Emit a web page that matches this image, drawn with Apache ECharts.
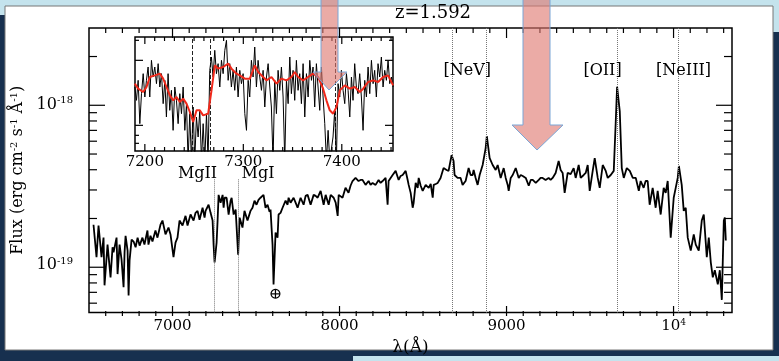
<!DOCTYPE html>
<html>
<head>
<meta charset="utf-8">
<script src="https://cdn.jsdelivr.net/npm/echarts@6.0.0/dist/echarts.min.js"></script>
<style>
  html, body { margin: 0; padding: 0; background: #17304f; }
  #main { width: 779px; height: 361px; }
</style>
</head>
<body>
<div id="main"></div>
<script>
// main spectrum, flux in units of 1e-19 erg cm-2 s-1 A-1
const lam = [6527, 6545, 6557, 6575, 6587, 6593, 6611, 6629, 6641, 6647, 6665, 6671, 6683, 6695, 6707, 6713, 6719, 6731, 6737, 6743,
  6755, 6767, 6779, 6791, 6803, 6820, 6832, 6850, 6856, 6868, 6880, 6898, 6910, 6928, 6940, 6952, 6958, 6976, 6988, 7006,
  7018, 7030, 7042, 7060, 7078, 7090, 7108, 7126, 7138, 7150, 7162, 7180, 7192, 7198, 7216, 7228, 7240, 7246, 7252, 7264,
  7270, 7276, 7288, 7300, 7306, 7312, 7324, 7336, 7348, 7354, 7366, 7378, 7393, 7402, 7419, 7431, 7449, 7467, 7479, 7491,
  7503, 7515, 7527, 7545, 7557, 7569, 7581, 7587, 7593, 7599, 7605, 7617, 7629, 7635, 7647, 7659, 7677, 7689, 7695, 7707,
  7725, 7737, 7749, 7767, 7785, 7797, 7809, 7827, 7845, 7857, 7869, 7887, 7905, 7917, 7935, 7947, 7965, 7977, 7989, 7995,
  8006, 8018, 8036, 8054, 8066, 8078, 8096, 8114, 8126, 8138, 8156, 8174, 8186, 8198, 8216, 8234, 8246, 8258, 8276, 8288,
  8294, 8306, 8318, 8336, 8354, 8366, 8378, 8396, 8408, 8414, 8426, 8438, 8444, 8456, 8468, 8474, 8486, 8498, 8516, 8534,
  8546, 8558, 8564, 8576, 8588, 8605, 8623, 8641, 8653, 8671, 8683, 8689, 8707, 8725, 8737, 8755, 8773, 8785, 8797, 8803,
  8815, 8827, 8839, 8857, 8875, 8882, 8899, 8917, 8935, 8947, 8965, 8983, 8995, 9007, 9013, 9025, 9037, 9055, 9073, 9085,
  9097, 9115, 9133, 9145, 9157, 9175, 9193, 9204, 9216, 9234, 9252, 9264, 9276, 9294, 9312, 9324, 9336, 9348, 9366, 9384,
  9402, 9414, 9432, 9444, 9462, 9474, 9486, 9498, 9516, 9528, 9546, 9558, 9576, 9594, 9606, 9624, 9642, 9654, 9662, 9678,
  9690, 9702, 9720, 9738, 9756, 9774, 9792, 9803, 9821, 9833, 9845, 9857, 9875, 9893, 9905, 9923, 9941, 9953, 9965, 9983,
  10001, 10013, 10025, 10032, 10049, 10061, 10073, 10085, 10103, 10121, 10133, 10151, 10169, 10181, 10199, 10211, 10223, 10235, 10247, 10265,
  10277, 10289, 10301, 10307, 10313];
const flux = [1.77, 1.11, 1.75, 1.11, 1.47, 0.74, 1.33, 0.83, 1.28, 1.19, 1.47, 0.87, 1.33, 1.07, 0.72, 1.19, 1.51, 1.22, 0.64, 1.06,
  1.43, 1.39, 1.28, 1.47, 1.31, 1.47, 1.33, 1.63, 1.33, 1.51, 1.39, 1.63, 1.47, 1.77, 1.88, 1.65, 1.54, 1.70, 1.54, 1.11,
  1.37, 1.47, 1.88, 1.75, 2.01, 1.75, 2.05, 1.88, 2.10, 2.16, 1.90, 2.26, 1.96, 2.16, 2.36, 2.10, 1.88, 1.33, 1.03, 1.37,
  1.88, 2.72, 2.43, 2.72, 2.26, 2.61, 2.61, 2.05, 2.50, 2.61, 2.05, 2.20, 1.15, 1.96, 1.70, 2.16, 1.88, 2.16, 2.26, 2.50,
  2.36, 2.53, 2.61, 2.72, 2.26, 2.36, 2.13, 2.20, 1.70, 1.33, 0.75, 1.58, 1.47, 2.05, 2.10, 2.26, 2.50, 2.36, 2.61, 2.43,
  2.61, 2.43, 2.26, 2.61, 2.36, 2.68, 2.72, 2.36, 2.72, 2.68, 2.61, 2.88, 2.36, 2.72, 2.36, 2.72, 2.61, 2.43, 2.01, 2.72,
  2.68, 2.61, 3.01, 2.80, 3.10, 3.32, 3.47, 3.32, 3.37, 3.37, 3.14, 3.32, 3.14, 3.23, 3.14, 3.37, 3.23, 3.32, 3.47, 2.36,
  3.32, 3.47, 3.62, 3.84, 3.37, 3.57, 3.62, 3.84, 3.37, 3.14, 2.80, 2.26, 2.43, 3.23, 3.01, 3.47, 3.10, 2.88, 3.14, 3.01,
  3.18, 2.61, 3.14, 3.18, 3.23, 3.47, 4.00, 3.89, 3.84, 4.82, 4.43, 3.62, 3.47, 3.47, 3.14, 3.32, 4.00, 3.62, 3.62, 3.89,
  3.47, 3.14, 3.62, 4.18, 5.33, 6.33, 4.62, 4.18, 3.89, 4.18, 3.47, 4.00, 3.47, 3.14, 2.88, 3.47, 3.62, 4.00, 3.47, 3.62,
  3.57, 3.47, 3.10, 3.37, 3.37, 3.23, 3.37, 3.47, 3.47, 3.37, 3.47, 3.37, 3.47, 3.73, 4.43, 3.89, 3.73, 2.80, 3.73, 3.67,
  4.00, 3.47, 4.18, 3.47, 3.62, 3.73, 4.18, 2.88, 3.84, 4.62, 3.47, 3.01, 4.18, 3.84, 3.47, 3.62, 3.84, 7.84, 12.9, 9.05,
  4.00, 3.47, 4.00, 3.84, 3.47, 3.47, 2.88, 3.32, 3.01, 3.32, 3.32, 2.36, 3.01, 2.26, 2.88, 2.05, 3.01, 2.80, 3.32, 1.47,
  2.61, 3.01, 3.47, 4.12, 3.14, 2.16, 2.26, 1.47, 1.22, 1.54, 1.33, 1.22, 1.88, 2.05, 1.11, 1.47, 1.03, 0.83, 0.92, 0.75,
  0.92, 0.60, 1.88, 1.96, 1.41];

// inset: zoom on 7190-7452 A, raw (black) and smoothed (red), arbitrary linear units
const insetLam = [7189.8, 7191.5, 7193.2, 7194.9, 7196.6, 7198.3, 7200.0, 7201.6, 7203.3, 7205.0, 7206.7, 7208.4, 7210.1, 7211.8, 7213.5, 7215.2,
  7216.9, 7218.6, 7220.3, 7221.9, 7223.6, 7225.3, 7227.0, 7228.7, 7230.4, 7232.1, 7233.8, 7235.5, 7237.2, 7238.9, 7240.6, 7242.3,
  7243.9, 7245.6, 7247.3, 7249.0, 7250.7, 7252.4, 7254.1, 7255.8, 7257.5, 7259.2, 7260.9, 7262.6, 7264.2, 7265.9, 7267.6, 7269.3,
  7271.0, 7272.7, 7274.4, 7276.1, 7277.8, 7279.5, 7281.2, 7282.9, 7284.6, 7286.2, 7287.9, 7289.6, 7291.3, 7293.0, 7294.7, 7296.4,
  7298.1, 7299.8, 7301.5, 7303.2, 7304.9, 7306.5, 7308.2, 7309.9, 7311.6, 7313.3, 7315.0, 7316.7, 7318.4, 7320.1, 7321.8, 7323.5,
  7325.2, 7326.9, 7328.5, 7330.2, 7331.9, 7333.6, 7335.3, 7337.0, 7338.7, 7340.4, 7342.1, 7343.8, 7345.5, 7347.2, 7348.8, 7350.5,
  7352.2, 7353.9, 7355.6, 7357.3, 7359.0, 7360.7, 7362.4, 7364.1, 7365.8, 7367.5, 7369.2, 7370.8, 7372.5, 7374.2, 7375.9, 7377.6,
  7379.3, 7381.0, 7382.7, 7384.4, 7386.1, 7387.8, 7389.5, 7391.1, 7392.8, 7394.5, 7396.2, 7397.9, 7399.6, 7401.3, 7403.0, 7404.7,
  7406.4, 7408.1, 7409.8, 7411.4, 7413.1, 7414.8, 7416.5, 7418.2, 7419.9, 7421.6, 7423.3, 7425.0, 7426.7, 7428.4, 7430.1, 7431.8,
  7433.4, 7435.1, 7436.8, 7438.5, 7440.2, 7441.9, 7443.6, 7445.3, 7447.0, 7448.7, 7450.4, 7452.1];
const insetFlux = [1.92, 1.52, 2.12, 0.82, 1.72, 2.32, 1.62, 2.12, 2.52, 1.62, 2.72, 2.22, 2.52, 2.02, 2.62, 1.92,
  2.32, 1.42, 2.12, 1.02, 2.32, 1.22, 1.82, 0.62, 1.92, 1.52, 0.82, 1.72, 1.12, 1.92, 0.62, 1.42,
  -0.3, 1.12, -0.3, 1.32, -0.3, 1.02, 0.42, 1.22, -0.3, 0.82, -0.3, 1.12, -0.3, 2.42, 2.82, 2.22,
  3.02, 2.32, 2.62, 1.92, 2.72, 2.32, 3.02, 3.32, 2.12, 2.62, 1.92, 2.42, 1.82, 2.52, 1.62, 2.42,
  2.02, 2.32, 1.12, 0.62, 2.12, 1.62, 2.72, 2.22, 3.12, 1.92, 2.72, 2.22, 1.82, 2.42, 1.32, 2.22,
  2.62, 1.92, 1.32, -0.3, 2.12, 1.12, 2.42, 1.82, 2.52, 1.62, -0.3, 2.12, 1.42, 2.82, 1.72, 2.42,
  1.52, 2.72, 1.82, 2.32, 1.42, 2.62, 1.02, 2.32, 1.62, 2.72, 2.12, 2.52, 1.32, 2.62, 1.92, 1.22,
  2.52, 1.62, 0.82, -0.3, 0.62, -0.3, -0.3, 0.42, 1.22, -0.3, 2.02, 1.62, 2.42, 1.82, 1.42, 2.32,
  1.82, 1.02, 2.22, 1.52, 2.62, 1.92, 1.72, 2.32, 1.62, 0.62, 2.12, 1.62, 2.52, 1.72, 2.72, 2.02,
  2.42, 1.62, 2.62, 2.22, 2.82, 1.92, 2.42, 2.12, 2.72, 2.02, 2.22, 1.92];
const smoothLam = [7189.8, 7193.2, 7198.3, 7201.7, 7205.1, 7210.2, 7215.2, 7218.6, 7222.0, 7225.4, 7228.8, 7232.1, 7235.5, 7238.9, 7242.3, 7245.7,
  7249.1, 7252.5, 7255.8, 7259.2, 7264.3, 7267.7, 7271.1, 7274.5, 7279.5, 7284.6, 7288.0, 7293.1, 7296.4, 7301.5, 7306.6, 7311.7,
  7315.1, 7320.1, 7323.5, 7328.6, 7333.7, 7338.7, 7343.8, 7348.9, 7352.3, 7355.7, 7360.7, 7365.8, 7370.9, 7376.0, 7381.0, 7384.4,
  7387.8, 7391.2, 7394.6, 7398.0, 7403.0, 7408.1, 7413.2, 7418.3, 7421.7, 7426.7, 7431.8, 7436.9, 7442.0, 7447.0, 7452.1];
const smoothFlux = [2.02, 1.87, 1.77, 1.92, 2.22, 2.27, 2.32, 2.17, 1.92, 1.67, 1.52, 1.62, 1.47, 1.57, 1.42, 1.17,
  0.87, 1.22, 1.22, 1.07, 1.12, 1.82, 2.57, 2.47, 2.52, 2.62, 2.47, 2.32, 2.27, 2.17, 2.17, 2.57,
  2.37, 2.22, 2.12, 2.22, 2.02, 2.17, 2.12, 2.22, 2.37, 2.22, 2.12, 2.22, 2.32, 2.22, 1.87, 1.52,
  1.22, 1.12, 1.32, 1.82, 1.97, 1.87, 1.92, 1.77, 1.87, 2.07, 2.12, 2.07, 2.22, 2.27, 1.97];

// line identifications
const lineLam = [7252, 7393, 8673, 8880, 9661, 10028];
const lineTop = [3.4, 3.4, 30, 30, 30, 30];
const insetLineLam = [7248, 7266, 7393];
const labelText = ['MgII', 'MgI', '[NeV]', '[OII]', '[NeIII]', '⊕'];
const labelLam = [7150, 7512, 8765, 9575, 10060, 7617];
const labelFlux = [3.67, 3.67, 16.3, 16.3, 16.3, 0.65];

// ticks
const xMajor = [7000, 8000, 9000, 10000];
const yMajor = [1, 10];
const yMinor = [0.6, 0.7, 0.8, 0.9, 2, 3, 4, 5, 6, 7, 8, 9, 20];
const insetMajor = [7200, 7300, 7400];
const insetYMajor = [0.77, 2.72];
const insetYMinor = [0.23, 0.47, 3.32];

const xMinor = [];
for (let v = 6600; v <= 10300; v += 100) if (v % 1000 !== 0) xMinor.push(v);
const insetMinor = [];
for (let v = 7200; v <= 7450; v += 10) if (v % 100 !== 0) insetMinor.push(v);

const X0 = 6500, X1 = 10350, Y0 = 0.5, Y1 = 30;
const GL = 89, GT = 28, GW = 643, GH = 288;

const FONT = 'DejaVu Serif';
const rich = {
  b: { fontSize: 15, fontFamily: FONT, color: '#000', lineHeight: 16 },
  s: { fontSize: 9, fontFamily: FONT, color: '#000', lineHeight: 9, verticalAlign: 'top' }
};
const yRich = {
  b: { fontSize: 16, fontFamily: FONT, color: '#000', lineHeight: 17 },
  s: { fontSize: 10, fontFamily: FONT, color: '#000', lineHeight: 10, verticalAlign: 'top' }
};

// inset ticks drawn inward on both opposite sides
function tickSeries(dir, xi, yi, items) {
  return {
    type: 'custom', xAxisIndex: xi, yAxisIndex: yi, silent: true, z: 8,
    data: items,
    renderItem: function (params, api) {
      const cs = params.coordSys;
      const p = api.coord([api.value(0), api.value(1)]);
      const len = api.value(2);
      const st = { stroke: '#000', lineWidth: 1.2 };
      if (dir === 'x') {
        const b = cs.y + cs.height, t = cs.y;
        return { type: 'group', children: [
          { type: 'line', shape: { x1: p[0], y1: b, x2: p[0], y2: b - len }, style: st },
          { type: 'line', shape: { x1: p[0], y1: t, x2: p[0], y2: t + len }, style: st }
        ] };
      }
      const l = cs.x, r = cs.x + cs.width;
      return { type: 'group', children: [
        { type: 'line', shape: { x1: l, y1: p[1], x2: l + len, y2: p[1] }, style: st },
        { type: 'line', shape: { x1: r, y1: p[1], x2: r - len, y2: p[1] }, style: st }
      ] };
    }
  };
}

// main frame ticks, placed with the same linear / log10 mapping as the main grid
const pxX = v => GL + (v - X0) / (X1 - X0) * GW;
const pxY = v => GT + GH - (Math.log10(v) - Math.log10(Y0)) / (Math.log10(Y1) - Math.log10(Y0)) * GH;
const frameTicks = [];
const tickStyle = { stroke: '#000', lineWidth: 1.2 };
function addX(v, len) {
  const x = pxX(v);
  frameTicks.push({ type: 'line', z: 60, shape: { x1: x, y1: GT + GH, x2: x, y2: GT + GH - len }, style: tickStyle });
  frameTicks.push({ type: 'line', z: 60, shape: { x1: x, y1: GT, x2: x, y2: GT + len }, style: tickStyle });
}
function addY(v, len) {
  const y = pxY(v);
  frameTicks.push({ type: 'line', z: 60, shape: { x1: GL, y1: y, x2: GL + len, y2: y }, style: tickStyle });
  frameTicks.push({ type: 'line', z: 60, shape: { x1: GL + GW, y1: y, x2: GL + GW - len, y2: y }, style: tickStyle });
}
xMajor.forEach(v => addX(v, 10));
xMinor.forEach(v => addX(v, 5));
yMajor.forEach(v => addY(v, 16));
yMinor.forEach(v => addY(v, 8));

const chart = echarts.init(document.getElementById('main'));

const option = {
  backgroundColor: '#17304f',
  animation: false,
  grid: [
    { left: GL, top: GT, width: GW, height: GH, show: true, backgroundColor: 'transparent', borderColor: '#000', borderWidth: 1.5 },
    { left: 135, top: 37, width: 258, height: 114, show: true, backgroundColor: '#fff', borderColor: '#000', borderWidth: 1.5 }
  ],
  xAxis: [
    {
      type: 'value', gridIndex: 0, min: X0, max: X1,
      axisLine: { show: false }, axisTick: { show: false }, splitLine: { show: false },
      axisLabel: { customValues: xMajor, margin: 6, rich: rich,
        formatter: v => v === 10000 ? '{b|10}{s|4}' : '{b|' + v + '}' },
      name: 'λ(Å)', nameLocation: 'middle', nameGap: 19,
      nameTextStyle: { fontFamily: FONT, fontSize: 17, color: '#000' }
    },
    {
      type: 'value', gridIndex: 1, min: 7190, max: 7452,
      axisLine: { show: false }, axisTick: { show: false }, splitLine: { show: false },
      axisLabel: { customValues: insetMajor, margin: 3, rich: rich, formatter: v => '{b|' + v + '}' }
    }
  ],
  yAxis: [
    {
      type: 'log', gridIndex: 0, min: Y0, max: Y1,
      axisLine: { show: false }, axisTick: { show: false }, splitLine: { show: false },
      axisLabel: { customValues: yMajor, margin: 16, rich: yRich,
        formatter: v => v === 1 ? '{b|10}{s|-19}' : '{b|10}{s|-18}' },
      name: 'Flux (erg cm{s|-2} s{s|-1} Å{s|-1})', nameLocation: 'middle', nameRotate: 90, nameGap: 60,
      nameTextStyle: {
        fontFamily: FONT, fontSize: 16, color: '#000',
        rich: { s: { fontSize: 10, fontFamily: FONT, color: '#000', verticalAlign: 'top', lineHeight: 10 } }
      }
    },
    {
      type: 'value', gridIndex: 1, min: 0, max: 3.42,
      axisLine: { show: false }, axisTick: { show: false }, splitLine: { show: false },
      axisLabel: { show: false }
    }
  ],
  graphic: [
    { type: 'rect', z: -10, shape: { x: 0, y: 0, width: 779, height: 15 }, style: { fill: '#c4e3ed' } },
    { type: 'rect', z: -10, shape: { x: 770, y: 0, width: 9, height: 32 }, style: { fill: '#c4e3ed' } },
    { type: 'rect', z: -9, shape: { x: 5, y: 6, width: 768, height: 344 }, style: { fill: '#fff', stroke: '#777', lineWidth: 1 } },
    { type: 'rect', z: -10, shape: { x: 353, y: 356, width: 426, height: 5 }, style: { fill: '#c4e3ed' } },
    { type: 'text', z: 5, x: 433, y: 13, style: { text: 'z=1.592', fontFamily: FONT, fontSize: 18, fill: '#000', textAlign: 'center', textVerticalAlign: 'middle' } },
    {
      type: 'polygon', z: 100,
      shape: { points: [[321, -2], [338, -2], [338, 72], [347, 72], [329, 90], [313, 72], [321, 72]] },
      style: { fill: 'rgba(222,120,112,0.62)', stroke: '#7aa6d6', lineWidth: 1 }
    },
    {
      type: 'polygon', z: 100,
      shape: { points: [[523, -2], [550, -2], [550, 125], [563, 125], [537, 150], [512, 125], [523, 125]] },
      style: { fill: 'rgba(222,120,112,0.62)', stroke: '#7aa6d6', lineWidth: 1 }
    }
  ].concat(frameTicks),
  series: [
    {
      name: 'spectrum', type: 'line', xAxisIndex: 0, yAxisIndex: 0, z: 4,
      data: lam.map((l, i) => [l, flux[i]]),
      showSymbol: false, symbol: 'none',
      lineStyle: { color: '#000', width: 1.8 },
      markLine: {
        silent: true, symbol: 'none', animation: false,
        label: { show: false },
        lineStyle: { color: '#777', type: 'dotted', width: 1 },
        data: lineLam.map((l, i) => [{ coord: [l, lineTop[i]] }, { coord: [l, Y0] }])
      }
    },
    {
      name: 'labels', type: 'scatter', xAxisIndex: 0, yAxisIndex: 0, z: 5,
      symbolSize: 0, silent: true, itemStyle: { opacity: 1 },
      data: labelText.map((t, i) => [labelLam[i], labelFlux[i], t]),
      label: {
        show: true, position: 'inside', color: '#000', opacity: 1, fontFamily: FONT,
        fontSize: 16, formatter: p => p.data[2]
      }
    },
    {
      name: 'inset', type: 'line', xAxisIndex: 1, yAxisIndex: 1, z: 6,
      data: insetLam.map((l, i) => [l, insetFlux[i]]),
      showSymbol: false, symbol: 'none',
      lineStyle: { color: '#000', width: 1 },
      markLine: {
        silent: true, symbol: 'none', animation: false,
        label: { show: false },
        lineStyle: { color: '#222', type: 'dashed', width: 1 },
        data: insetLineLam.map(l => [{ coord: [l, 0] }, { coord: [l, 3.42] }])
      }
    },
    {
      name: 'smoothed', type: 'line', xAxisIndex: 1, yAxisIndex: 1, z: 7,
      data: smoothLam.map((l, i) => [l, smoothFlux[i]]),
      showSymbol: false, symbol: 'none',
      lineStyle: { color: '#f0281a', width: 2 }
    },
    tickSeries('x', 1, 1, insetMajor.map(v => [v, 1, 7]).concat(insetMinor.map(v => [v, 1, 4]))),
    tickSeries('y', 1, 1, insetYMajor.map(v => [7300, v, 8]).concat(insetYMinor.map(v => [7300, v, 4])))
  ]
};

chart.setOption(option);
</script>
</body>
</html>
